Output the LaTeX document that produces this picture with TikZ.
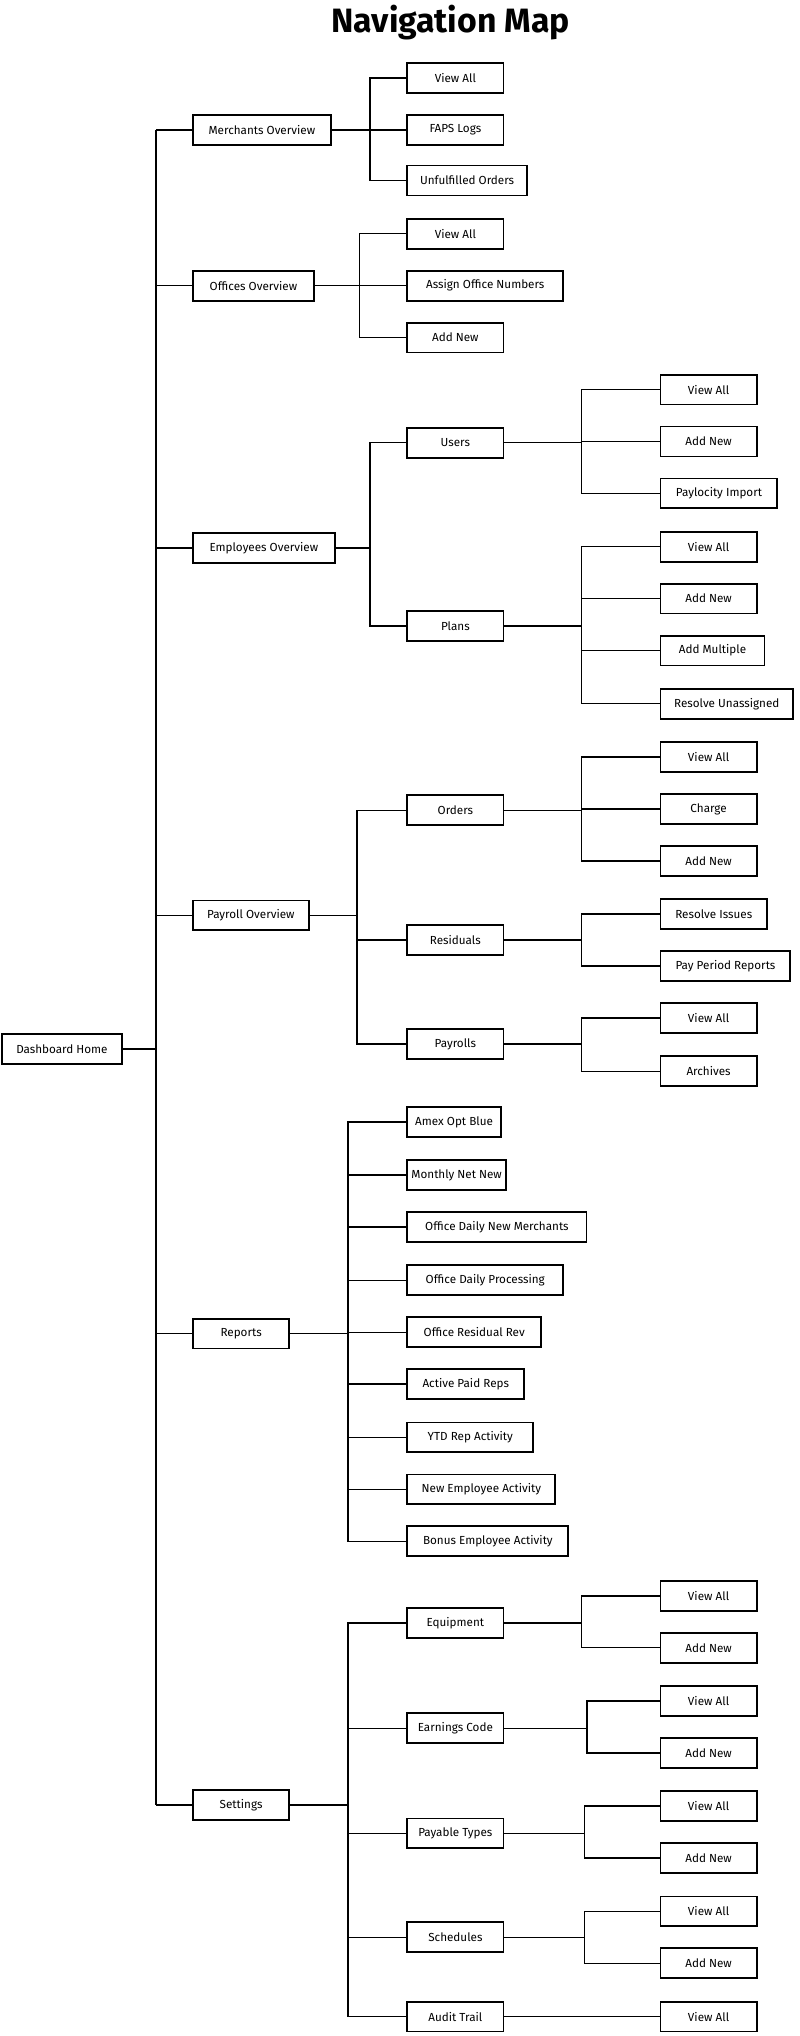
\documentclass[tikz,border=0pt]{standalone}
\usepackage{fontspec}
\setmainfont{Fira Sans}
\usetikzlibrary{positioning, calc}

\tikzset{
  box/.style={draw, line width=1.4pt, anchor=west, minimum height=23pt,
    inner sep=0pt, font=\fontsize{9}{10}\selectfont, fill=white},
  link/.style={line width=1.1pt},
}
% \pg{name}{left x}{y}{width}{text}
\newcommand{\pg}[5]{\node[box, minimum width=#4pt] (#1) at (#2,#3) {#5};}
% \lnk{parent}{bus}{child}
\newcommand{\lnk}[3]{\draw[link] (#1.east) -- (#1.east -| #2) |- (#3.west);}

\begin{document}
\begin{tikzpicture}[x=1pt, y=-1pt]
  \useasboundingbox (0,0) rectangle (616,1568);
  \node[font=\fontsize{26}{30}\selectfont\bfseries] (title) at (347,17) {Navigation Map};

  % root and first level
  \pg{home}{1}{808}{92}{Dashboard Home}
  \pg{merch}{148}{100}{106}{Merchants Overview}
  \pg{offic}{148}{220}{93}{Offices Overview}
  \pg{emplo}{148}{422}{109}{Employees Overview}
  \pg{payro}{148}{705}{89}{Payroll Overview}
  \pg{repor}{148}{1027}{74}{Reports}
  \pg{setti}{148}{1390}{74}{Settings}
  \coordinate (trunk) at (120,0);
  \draw[link] (home.east) -- (home.east -| trunk);
  \draw[link] (merch.west -| trunk) -- (setti.west -| trunk);
  \foreach \n in {merch, offic, emplo, payro, repor, setti}
    {\draw[link] (\n.west -| trunk) -- (\n.west);}

  % merchants
  \coordinate (bm) at (285,0);
  \pg{mva}{313}{60}{74}{View All}
  \pg{mfa}{313}{100}{74}{FAPS Logs}
  \pg{mun}{313}{139}{92}{Unfulfilled Orders}
  \foreach \c in {mva, mfa, mun} {\lnk{merch}{bm}{\c}}

  % offices
  \coordinate (bo) at (277,0);
  \pg{ova}{313}{180}{74}{View All}
  \pg{oas}{313}{220}{120}{Assign Office Numbers}
  \pg{oad}{313}{260}{74}{Add New}
  \foreach \c in {ova, oas, oad} {\lnk{offic}{bo}{\c}}

  % employees
  \coordinate (be) at (285,0);
  \coordinate (bs) at (448,0);
  \pg{users}{313}{341}{74}{Users}
  \pg{plans}{313}{482}{74}{Plans}
  \foreach \c in {users, plans} {\lnk{emplo}{be}{\c}}
  \pg{uva}{508}{300}{74}{View All}
  \pg{uad}{508}{340}{74}{Add New}
  \pg{upi}{508}{380}{90}{Paylocity Import}
  \foreach \c in {uva, uad, upi} {\lnk{users}{bs}{\c}}
  \pg{pva}{508}{421}{74}{View All}
  \pg{pad}{508}{461}{74}{Add New}
  \pg{pam}{508}{501}{80}{Add Multiple}
  \pg{pru}{508}{542}{102}{Resolve Unassigned}
  \foreach \c in {pva, pad, pam, pru} {\lnk{plans}{bs}{\c}}

  % payroll
  \coordinate (bp) at (275,0);
  \pg{order}{313}{624}{74}{Orders}
  \pg{resid}{313}{724}{74}{Residuals}
  \pg{prols}{313}{804}{74}{Payrolls}
  \foreach \c in {order, resid, prols} {\lnk{payro}{bp}{\c}}
  \pg{rva}{508}{583}{74}{View All}
  \pg{rch}{508}{623}{74}{Charge}
  \pg{rad}{508}{663}{74}{Add New}
  \foreach \c in {rva, rch, rad} {\lnk{order}{bs}{\c}}
  \pg{rri}{508}{704}{82}{Resolve Issues}
  \pg{rpp}{508}{744}{100}{Pay Period Reports}
  \foreach \c in {rri, rpp} {\lnk{resid}{bs}{\c}}
  \pg{yva}{508}{784}{74}{View All}
  \pg{yar}{508}{825}{74}{Archives}
  \foreach \c in {yva, yar} {\lnk{prols}{bs}{\c}}

  % reports
  \coordinate (br) at (268,0);
  \pg{r1}{313}{864}{72}{Amex Opt Blue}
  \pg{r2}{313}{905}{76}{Monthly Net New}
  \pg{r3}{313}{945}{138}{Office Daily New Merchants}
  \pg{r4}{313}{986}{120}{Office Daily Processing}
  \pg{r5}{313}{1026}{103}{Office Residual Rev}
  \pg{r6}{313}{1066}{90}{Active Paid Reps}
  \pg{r7}{313}{1107}{97}{YTD Rep Activity}
  \pg{r8}{313}{1147}{114}{New Employee Activity}
  \pg{r9}{313}{1187}{124}{Bonus Employee Activity}
  \foreach \c in {r1,r2,r3,r4,r5,r6,r7,r8,r9} {\lnk{repor}{br}{\c}}

  % settings
  \pg{equip}{313}{1250}{74}{Equipment}
  \pg{earn}{313}{1331}{74}{Earnings Code}
  \pg{payab}{313}{1412}{74}{Payable Types}
  \pg{sched}{313}{1492}{74}{Schedules}
  \pg{audit}{313}{1553}{74}{Audit Trail}
  \foreach \c in {equip, earn, payab, sched, audit} {\lnk{setti}{br}{\c}}
  \coordinate (bq) at (452,0);
  \coordinate (bt) at (450,0);
  \pg{eva}{508}{1229}{74}{View All}
  \pg{ead}{508}{1269}{74}{Add New}
  \foreach \c in {eva, ead} {\lnk{equip}{bs}{\c}}
  \pg{cva}{508}{1310}{74}{View All}
  \pg{cad}{508}{1350}{74}{Add New}
  \foreach \c in {cva, cad} {\lnk{earn}{bq}{\c}}
  \pg{tva}{508}{1391}{74}{View All}
  \pg{tad}{508}{1431}{74}{Add New}
  \foreach \c in {tva, tad} {\lnk{payab}{bt}{\c}}
  \pg{sva}{508}{1472}{74}{View All}
  \pg{sad}{508}{1512}{74}{Add New}
  \foreach \c in {sva, sad} {\lnk{sched}{bt}{\c}}
  \pg{ava}{508}{1553}{74}{View All}
  \draw[link] (audit) -- (ava);
\end{tikzpicture}
\end{document}
